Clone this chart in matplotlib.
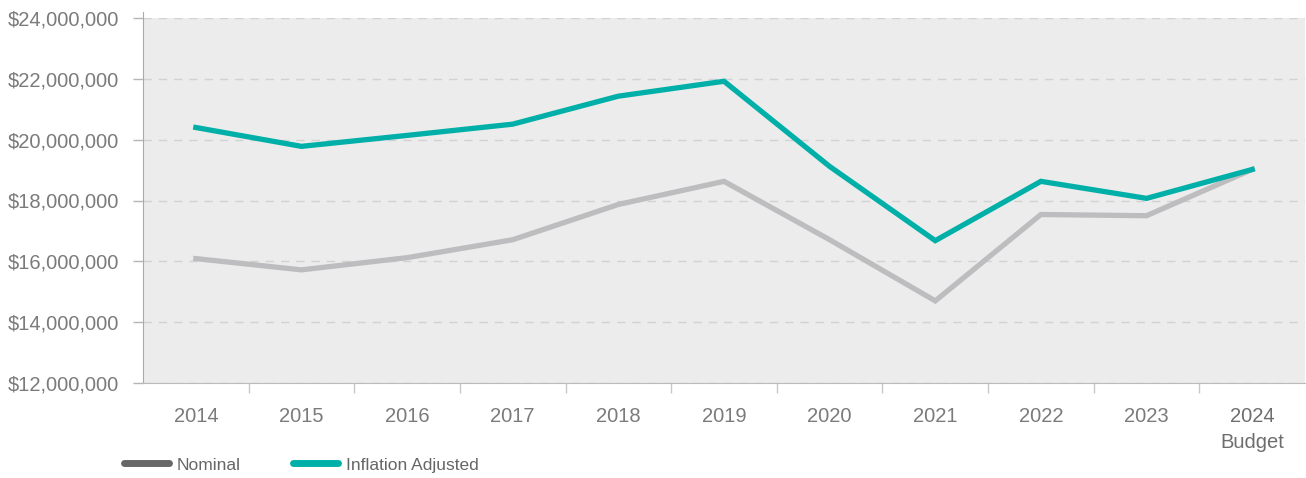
import matplotlib
matplotlib.use("Agg")
import matplotlib.pyplot as plt
from matplotlib.ticker import FuncFormatter, FixedLocator

plt.rcParams['font.family'] = ['Liberation Sans', 'DejaVu Sans']

years = ["2014", "2015", "2016", "2017", "2018", "2019", "2020", "2021", "2022", "2023", "2024\nBudget"]
nominal = [16.09, 15.72, 16.12, 16.71, 17.87, 18.63, 16.71, 14.70, 17.54, 17.50, 19.02]
inflation_adjusted = [20.40, 19.78, 20.14, 20.51, 21.43, 21.92, 19.12, 16.68, 18.63, 18.07, 19.02]

nominal = [v * 1e6 for v in nominal]
inflation_adjusted = [v * 1e6 for v in inflation_adjusted]

text_color = "#7b7b7d"
teal = "#00b0a8"
grey_line = "#bdbdbf"

fig = plt.figure(figsize=(13.06, 4.78), dpi=100)
ax = fig.add_axes([143 / 1306, 1 - 383 / 478, 1162 / 1306, 365 / 478])
ax.set_facecolor("#ebeceb")

x = list(range(len(years)))
ax.plot(x, nominal, color=grey_line, lw=3.8, solid_joinstyle="miter", zorder=3)
ax.plot(x, inflation_adjusted, color=teal, lw=3.8, solid_joinstyle="miter", zorder=4)

ax.set_xlim(-0.5, len(years) - 0.5)
ax.set_ylim(12e6, 24e6)
ax.set_yticks([12e6, 14e6, 16e6, 18e6, 20e6, 22e6, 24e6])
ax.yaxis.set_major_formatter(FuncFormatter(lambda v, p: "${:,.0f}".format(v)))
ax.grid(axis="y", color="#d2d2d2", ls=(0, (6, 5)), lw=1)
ax.set_axisbelow(True)

ax.set_xticks(x)
ax.set_xticklabels(years)
ax.tick_params(axis="x", which="major", length=0, pad=17, labelsize=14.5, labelcolor=text_color)
ax.xaxis.set_minor_locator(FixedLocator([i + 0.5 for i in x[:-1]]))
ax.tick_params(axis="x", which="minor", length=7, color="#c8c8c8", width=1)
ax.tick_params(axis="y", length=7, color="#b5b5b5", width=1, pad=10, labelsize=14.5, labelcolor=text_color)
last = ax.get_xticklabels()[-1]
last.set_color("#6e6e70")
last.set_linespacing(1.5)

for s in ["top", "right"]:
    ax.spines[s].set_visible(False)
ax.spines["left"].set_color("#aaaaaa")
ax.spines["bottom"].set_color("#bbbbbb")
ax.spines["left"].set_bounds(12e6, 24.2e6)
ax.spines["left"].set_clip_on(False)

h1, = ax.plot([], [], color="#676767", lw=5, solid_capstyle="round")
h2, = ax.plot([], [], color=teal, lw=5, solid_capstyle="round")
fig.legend([h1, h2], ["Nominal", "Inflation Adjusted"], loc="center left",
           bbox_to_anchor=(108 / 1306, 1 - 465 / 478), ncol=2, frameon=False,
           fontsize=12.5, labelcolor="#666666", handlelength=2.6, handletextpad=0.45,
           columnspacing=3.0)

fig.savefig("out.png", dpi=100)
